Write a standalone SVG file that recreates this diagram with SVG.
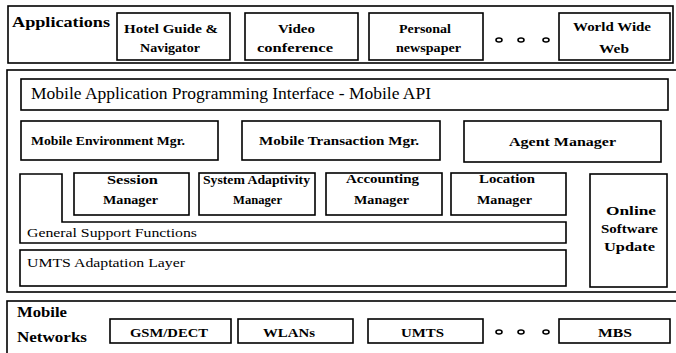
<svg xmlns="http://www.w3.org/2000/svg" width="676" height="353" viewBox="0 0 676 353">
<style>
.f{fill:#fff;stroke:#000;stroke-width:1.6}
.b{fill:none;stroke:#000;stroke-width:1.6}
text{fill:#000;font-family:"Liberation Serif",serif}
.t{font-size:12px;font-weight:bold}
.n{font-size:13px}
.m{font-size:13px;font-weight:bold}
.h{font-size:15px;font-weight:bold}
.d{fill:#fff;stroke:#000;stroke-width:1.6}
</style>
<rect width="676" height="353" fill="#fff"/>
<g id="frames">
<rect class="b" x="8" y="6" width="665" height="57"/>
<rect class="b" x="7" y="70" width="675" height="222"/>
<rect class="b" x="7" y="301" width="675" height="60"/>
</g>
<g id="applications-label"><text class="h" x="12" y="27" textLength="98" lengthAdjust="spacingAndGlyphs">Applications</text></g>
<g id="hotel"><rect class="f" x="117" y="13" width="113" height="47"/>
<text class="t" x="124" y="33" textLength="94" lengthAdjust="spacingAndGlyphs">Hotel Guide &amp;</text>
<text class="t" x="140" y="52" textLength="60" lengthAdjust="spacingAndGlyphs">Navigator</text></g>
<g id="video"><rect class="f" x="245" y="13" width="113" height="47"/>
<text class="t" x="278" y="33" textLength="37" lengthAdjust="spacingAndGlyphs">Video</text>
<text class="t" x="257" y="52" textLength="76" lengthAdjust="spacingAndGlyphs">conference</text></g>
<g id="personal"><rect class="f" x="369" y="13" width="114" height="47"/>
<text class="t" x="399" y="33" textLength="52" lengthAdjust="spacingAndGlyphs">Personal</text>
<text class="t" x="396" y="52" textLength="65" lengthAdjust="spacingAndGlyphs">newspaper</text></g>
<g id="dots-top">
<ellipse class="d" cx="499" cy="40" rx="3" ry="2"/>
<ellipse class="d" cx="521" cy="40" rx="3" ry="2"/>
<ellipse class="d" cx="546" cy="40" rx="3" ry="2"/>
</g>
<g id="www"><rect class="f" x="559" y="13" width="111" height="47"/>
<text class="t" x="573" y="31" textLength="78" lengthAdjust="spacingAndGlyphs">World Wide</text>
<text class="t" x="599" y="53" textLength="30" lengthAdjust="spacingAndGlyphs">Web</text></g>

<g id="api"><rect class="f" x="21" y="79" width="647" height="31"/>
<text class="n" style="font-size:16px" x="31" y="99" textLength="400" lengthAdjust="spacingAndGlyphs">Mobile Application Programming Interface - Mobile API</text></g>
<g id="env"><rect class="f" x="21" y="121" width="197" height="39"/>
<text class="m" x="31" y="145" textLength="154" lengthAdjust="spacingAndGlyphs">Mobile Environment Mgr.</text></g>
<g id="trans"><rect class="f" x="242" y="121" width="198" height="39"/>
<text class="m" x="259" y="145" textLength="160" lengthAdjust="spacingAndGlyphs">Mobile Transaction Mgr.</text></g>
<g id="agent"><rect class="f" x="464" y="121" width="197" height="41"/>
<text class="m" x="509" y="146" textLength="107" lengthAdjust="spacingAndGlyphs">Agent Manager</text></g>

<g id="gsf"><path class="f" d="M20,174 H62 V222 H566 V243 H20 Z"/>
<text class="n" style="font-size:12px" x="27" y="237" textLength="170" lengthAdjust="spacingAndGlyphs">General Support Functions</text></g>
<g id="session"><rect class="f" x="74" y="173" width="115" height="42"/>
<text class="t" x="107" y="184" textLength="51" lengthAdjust="spacingAndGlyphs">Session</text>
<text class="t" x="103" y="204" textLength="55" lengthAdjust="spacingAndGlyphs">Manager</text></g>
<g id="sysadapt"><rect class="f" x="199" y="173" width="116" height="42"/>
<text class="t" x="203" y="184" textLength="107" lengthAdjust="spacingAndGlyphs">System Adaptivity</text>
<text class="t" x="233" y="204" textLength="49" lengthAdjust="spacingAndGlyphs">Manager</text></g>
<g id="accounting"><rect class="f" x="326" y="173" width="116" height="42"/>
<text class="t" x="346" y="183" textLength="73" lengthAdjust="spacingAndGlyphs">Accounting</text>
<text class="t" x="354" y="204" textLength="55" lengthAdjust="spacingAndGlyphs">Manager</text></g>
<g id="location"><rect class="f" x="451" y="173" width="115" height="42"/>
<text class="t" x="479" y="183" textLength="56" lengthAdjust="spacingAndGlyphs">Location</text>
<text class="t" x="477" y="204" textLength="55" lengthAdjust="spacingAndGlyphs">Manager</text></g>
<g id="osu"><rect class="f" x="590" y="174" width="77" height="113"/>
<text class="t" x="606" y="215" textLength="50" lengthAdjust="spacingAndGlyphs">Online</text>
<text class="t" x="601" y="233" textLength="57" lengthAdjust="spacingAndGlyphs">Software</text>
<text class="t" x="604" y="251" textLength="51" lengthAdjust="spacingAndGlyphs">Update</text></g>
<g id="umts-al"><rect class="f" x="20" y="250" width="546" height="36"/>
<text class="n" x="27" y="267" textLength="158" lengthAdjust="spacingAndGlyphs">UMTS Adaptation Layer</text></g>

<g id="networks-label">
<text class="h" style="font-size:14px" x="17" y="317" textLength="50" lengthAdjust="spacingAndGlyphs">Mobile</text>
<text class="h" style="font-size:14px" x="17" y="342" textLength="70" lengthAdjust="spacingAndGlyphs">Networks</text></g>
<g id="gsm"><rect class="f" x="110" y="319" width="121" height="24"/>
<text class="t" x="130" y="337" textLength="78" lengthAdjust="spacingAndGlyphs">GSM/DECT</text></g>
<g id="wlans"><rect class="f" x="238" y="319" width="115" height="24"/>
<text class="t" x="263" y="337" textLength="52" lengthAdjust="spacingAndGlyphs">WLANs</text></g>
<g id="umts"><rect class="f" x="368" y="319" width="115" height="24"/>
<text class="t" x="401" y="337" textLength="43" lengthAdjust="spacingAndGlyphs">UMTS</text></g>
<g id="dots-bottom">
<ellipse class="d" cx="499" cy="332" rx="3" ry="2"/>
<ellipse class="d" cx="521" cy="332" rx="3" ry="2"/>
<ellipse class="d" cx="546" cy="332" rx="3" ry="2"/>
</g>
<g id="mbs"><rect class="f" x="559" y="319" width="111" height="24"/>
<text class="t" x="598" y="337" textLength="34" lengthAdjust="spacingAndGlyphs">MBS</text></g>
<g id="connectors"></g>
</svg>
